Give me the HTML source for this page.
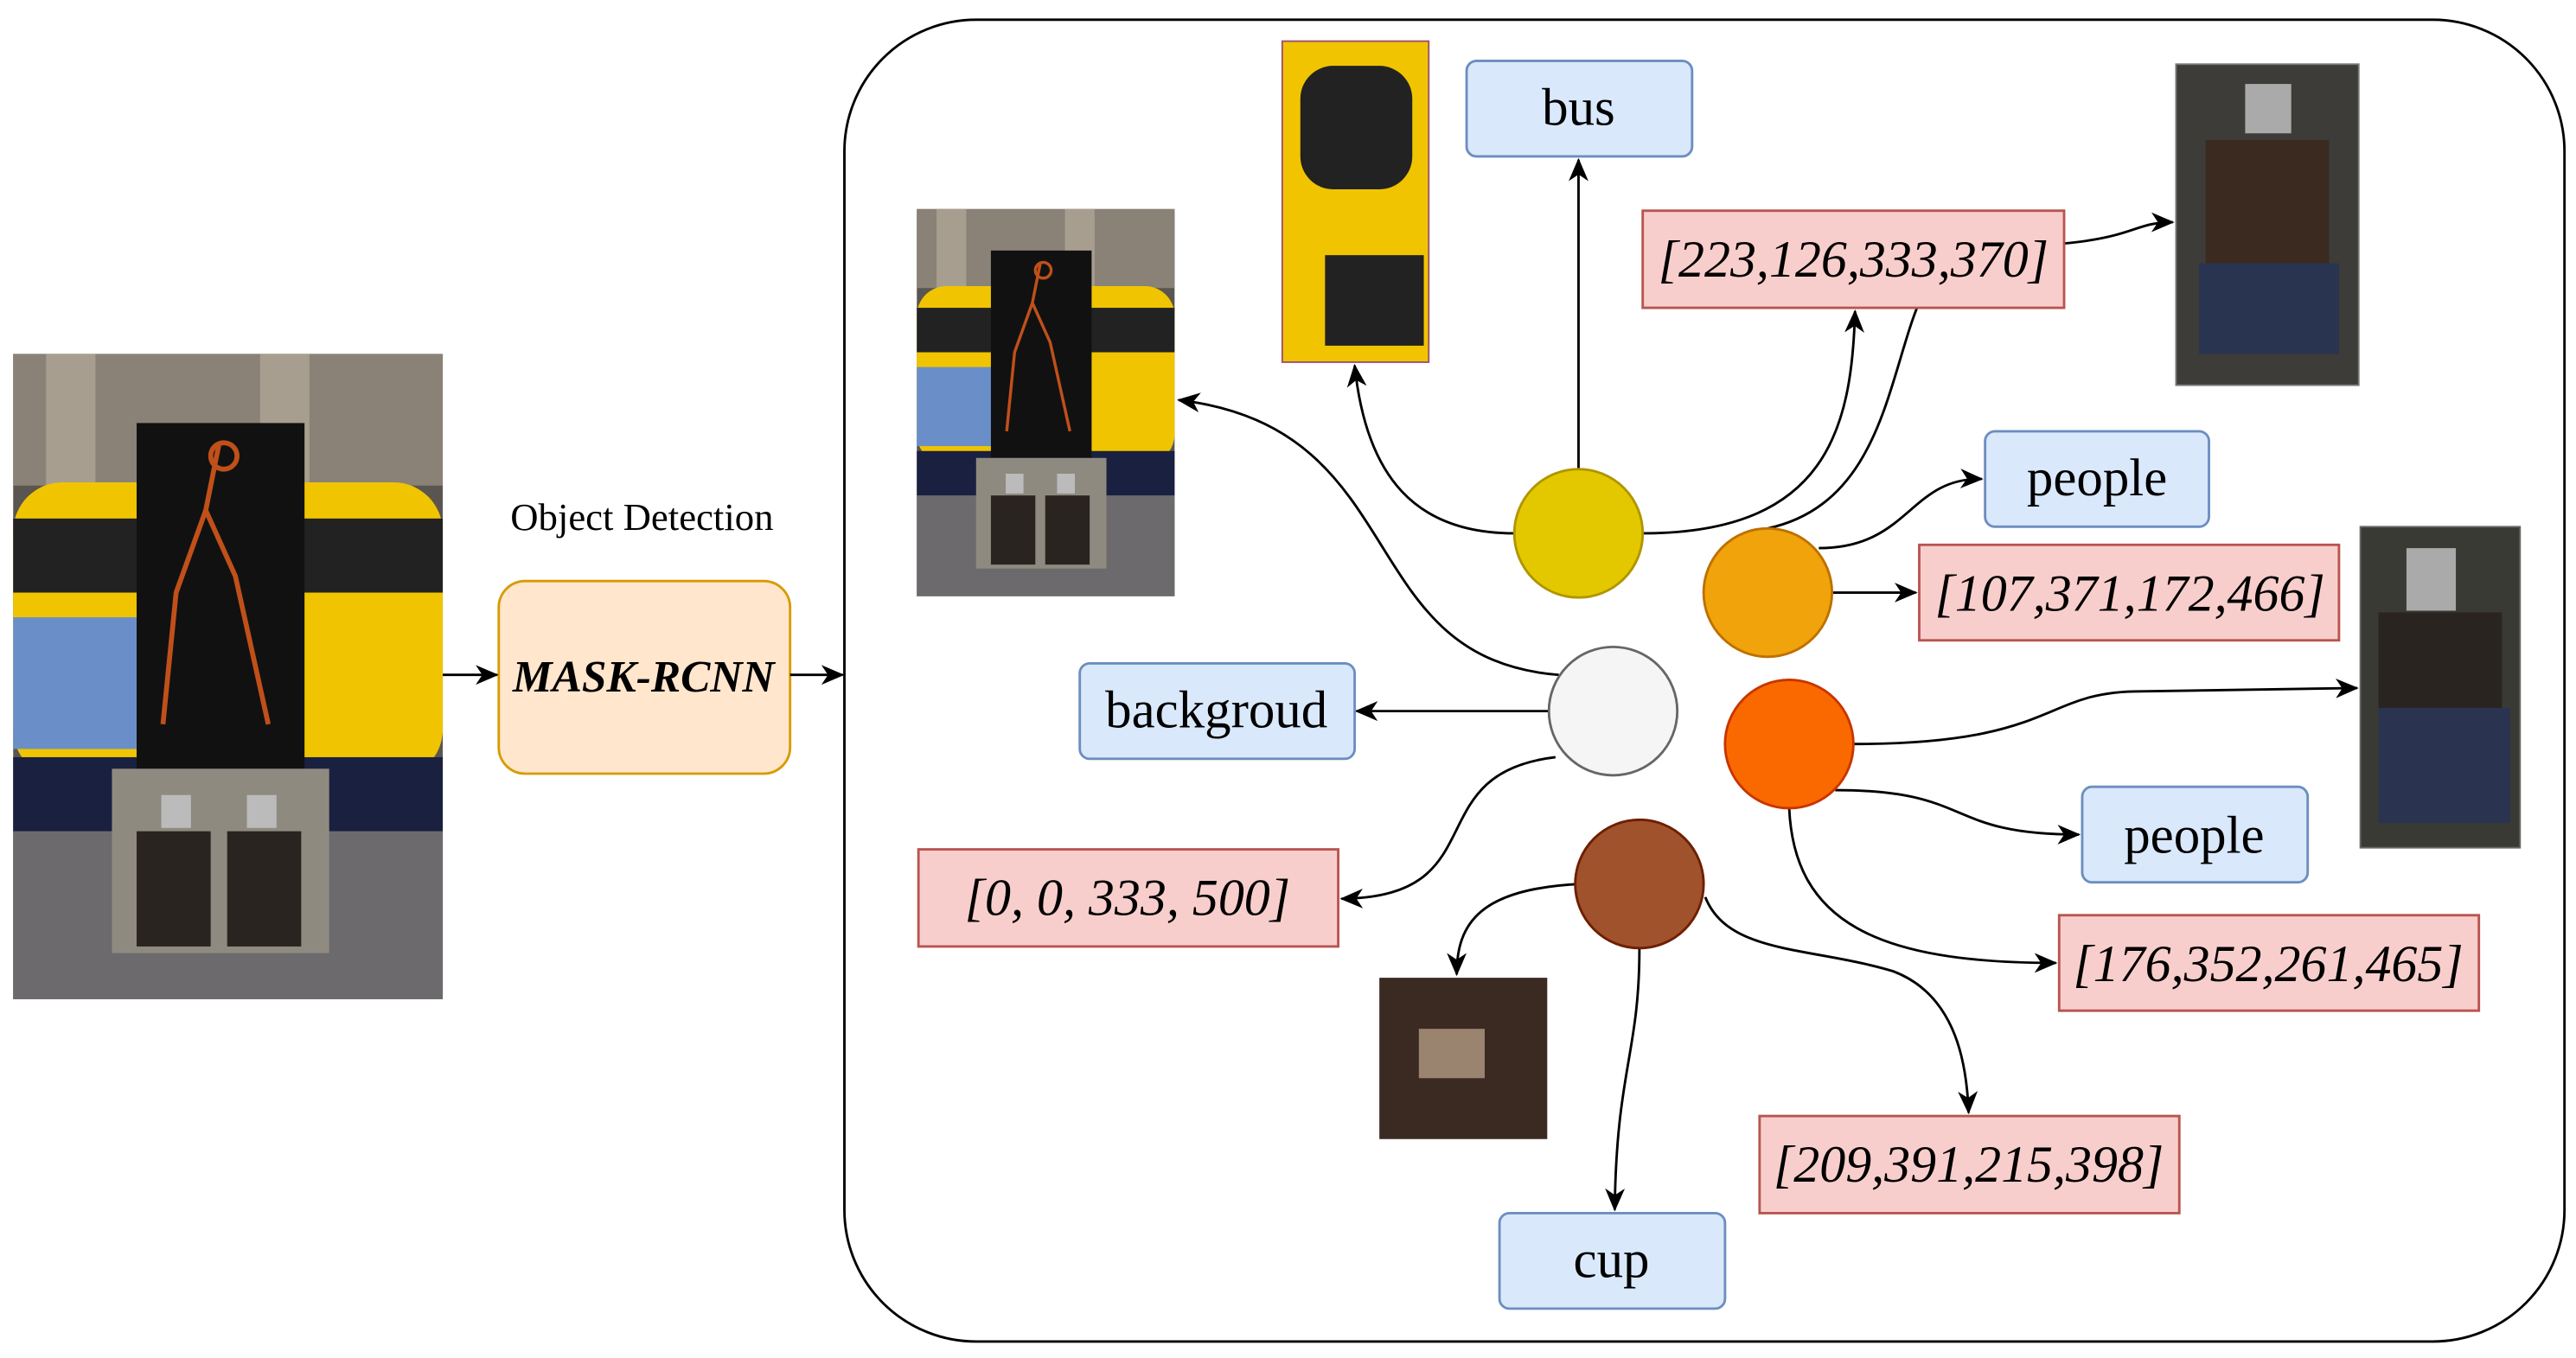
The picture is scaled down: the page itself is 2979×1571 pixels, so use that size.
<!DOCTYPE html>
<html><head><meta charset="utf-8"><style>
html,body{margin:0;padding:0;background:#fff;}
svg{display:block;}
text{font-family:"Liberation Serif",serif;}
</style></head><body>
<svg width="2979" height="1571" viewBox="0 0 1565 825" preserveAspectRatio="none" xmlns="http://www.w3.org/2000/svg">
<defs>
<marker id="a" markerWidth="14" markerHeight="14" refX="13" refY="7" orient="auto" markerUnits="userSpaceOnUse"><path d="M0,1 L14,7 L0,13 L4,7 z" fill="#000"/></marker>
<g id="scene">
<rect x="0" y="0" width="261" height="392" fill="#5a5550"/>
<rect x="0" y="0" width="261" height="80" fill="#8a8276"/>
<rect x="20" y="0" width="30" height="90" fill="#a89e90"/>
<rect x="150" y="0" width="30" height="90" fill="#a89e90"/>
<rect x="0" y="78" width="261" height="180" rx="30" fill="#f0c400"/>
<rect x="0" y="100" width="261" height="45" fill="#222"/>
<rect x="0" y="160" width="80" height="80" fill="#6a8fc8"/>
<rect x="0" y="245" width="261" height="45" fill="#1a2040"/>
<rect x="0" y="290" width="261" height="102" fill="#6c6a6c"/>
<rect x="75" y="42" width="102" height="210" fill="#111"/>
<path d="M125 55 l-8 40 l-18 50 l-8 80 M117 95 l18 40 l20 90" stroke="#c0501a" stroke-width="3" fill="none"/>
<circle cx="128" cy="62" r="8" stroke="#c0501a" stroke-width="3" fill="none"/>
<rect x="60" y="252" width="132" height="112" fill="#8f8a80"/>
<rect x="90" y="268" width="18" height="20" fill="#bbb"/>
<rect x="142" y="268" width="18" height="20" fill="#bbb"/>
<rect x="75" y="290" width="45" height="70" fill="#2a2420"/>
<rect x="130" y="290" width="45" height="70" fill="#2a2420"/>
</g>
</defs>

<use href="#scene" x="8" y="215"/>
<text x="390" y="322" font-size="23.5" text-anchor="middle">Object Detection</text>
<rect x="303" y="353" width="177" height="117" rx="16" fill="#ffe6cc" stroke="#d79b00" stroke-width="1.5"/>
<text x="391" y="420" font-size="27" font-weight="bold" font-style="italic" text-anchor="middle">MASK-RCNN</text>
<line x1="269" y1="410" x2="302" y2="410" stroke="#000" stroke-width="1.5" marker-end="url(#a)"/>
<line x1="480" y1="410" x2="512" y2="410" stroke="#000" stroke-width="1.5" marker-end="url(#a)"/>

<rect x="513" y="12" width="1045" height="803" rx="80" fill="none" stroke="#000" stroke-width="1.5"/>

<g transform="translate(557,127) scale(0.6,0.6)"><use href="#scene"/></g>
<rect x="779" y="25" width="89" height="195" fill="#f0c400" stroke="#a05070"/>
<rect x="790" y="40" width="68" height="75" rx="20" fill="#222"/>
<rect x="805" y="155" width="60" height="55" fill="#222"/>
<rect x="1322" y="39" width="111" height="195" fill="#3e3c38" stroke="#777"/>
<rect x="1364" y="51" width="28" height="30" fill="#aaa"/>
<rect x="1340" y="85" width="75" height="75" fill="#3a2a20"/>
<rect x="1336" y="160" width="85" height="55" fill="#283450"/>
<rect x="1434" y="320" width="97" height="195" fill="#3a3a34" stroke="#666"/>
<rect x="1462" y="333" width="30" height="38" fill="#aaa"/>
<rect x="1445" y="372" width="75" height="60" fill="#2a2420"/>
<rect x="1445" y="430" width="80" height="70" fill="#2a3450"/>
<rect x="838" y="594" width="102" height="98" fill="#3a2a22"/>
<rect x="862" y="625" width="40" height="30" fill="#9a8470"/>

<g stroke="#000" stroke-width="1.5" fill="none" marker-end="url(#a)">
<line x1="959" y1="285" x2="959" y2="97"/>
<path d="M920 324 C860 324 830 290 823 222"/>
<path d="M998 324 C1110 324 1125 260 1127 189"/>
<path d="M1074 321 C1170 300 1140 160 1200 150 C1300 150 1290 135 1320 135"/>
<path d="M1105 333 C1160 333 1160 290 1204 291"/>
<path d="M1113 360 L1164 360"/>
<path d="M941 432 L824 432"/>
<path d="M947 410 C820 400 860 260 716 243"/>
<path d="M945 460 C860 470 910 545 815 546"/>
<path d="M1126 452 C1250 452 1240 420 1300 420 L1432 418"/>
<path d="M1115 480 C1200 480 1180 507 1263 507"/>
<path d="M1087 491 C1090 560 1140 585 1249 585"/>
<path d="M960 537 C900 540 885 560 885 592"/>
<path d="M996 576 C996 640 982 650 981 735"/>
<path d="M1036 545 C1050 580 1100 575 1150 590 C1190 605 1195 650 1196 676"/>
</g>

<circle cx="959" cy="324" r="39" fill="#e3c800" stroke="#b09500" stroke-width="1.5"/>
<circle cx="1074" cy="360" r="39" fill="#f0a30a" stroke="#bd7000" stroke-width="1.5"/>
<circle cx="980" cy="432" r="39" fill="#f5f5f5" stroke="#666" stroke-width="1.5"/>
<circle cx="1087" cy="452" r="39" fill="#fa6800" stroke="#c73500" stroke-width="1.5"/>
<circle cx="996" cy="537" r="39" fill="#a0522d" stroke="#6d1f00" stroke-width="1.5"/>

<g fill="#dae8fc" stroke="#6c8ebf" stroke-width="1.5">
<rect x="891" y="37" width="137" height="58" rx="6"/>
<rect x="1206" y="262" width="136" height="58" rx="6"/>
<rect x="656" y="403" width="167" height="58" rx="6"/>
<rect x="1265" y="478" width="137" height="58" rx="6"/>
<rect x="911" y="737" width="137" height="58" rx="6"/>
</g>
<g font-size="32" text-anchor="middle">
<text x="959" y="76">bus</text>
<text x="1274" y="301">people</text>
<text x="739" y="442">backgroud</text>
<text x="1333" y="518">people</text>
<text x="979" y="776">cup</text>
</g>
<g fill="#f8cecc" stroke="#b85450" stroke-width="1.5">
<rect x="998" y="128" width="256" height="59"/>
<rect x="1166" y="331" width="255" height="58"/>
<rect x="558" y="516" width="255" height="59"/>
<rect x="1251" y="556" width="255" height="58"/>
<rect x="1069" y="678" width="255" height="59"/>
</g>
<g font-size="31.5" font-style="italic" text-anchor="middle">
<text x="1126" y="168">[223,126,333,370]</text>
<text x="1294" y="371">[107,371,172,466]</text>
<text x="685" y="556">[0, 0, 333, 500]</text>
<text x="1378" y="596">[176,352,261,465]</text>
<text x="1196" y="718">[209,391,215,398]</text>
</g>
</svg>
</body></html>
